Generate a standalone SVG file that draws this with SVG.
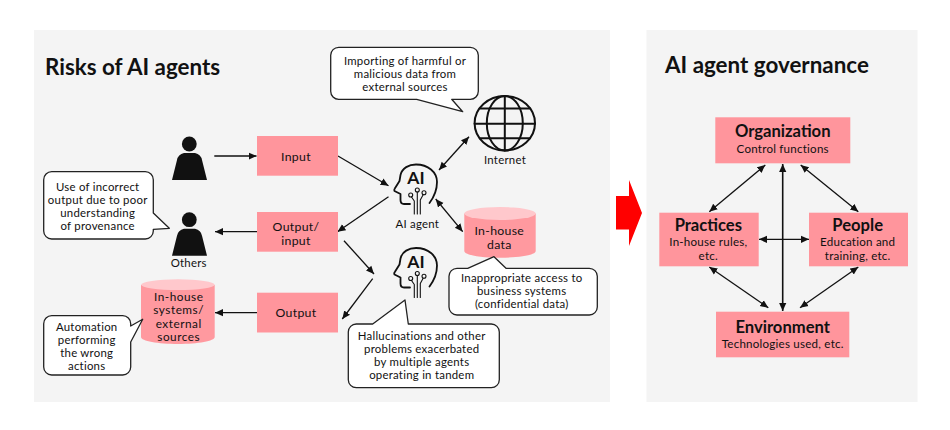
<svg xmlns="http://www.w3.org/2000/svg" width="950" height="430" viewBox="0 0 950 430">
<style>
text{font-family:"Lato","Noto Sans","Liberation Sans",sans-serif;fill:#111;text-anchor:middle}
.title{font-size:22.4px;font-weight:700;text-anchor:start}
.c{font-size:11.4px;letter-spacing:.25px}
.l{font-size:12.3px;letter-spacing:.3px}
.l2{font-size:11.8px;letter-spacing:.5px}
.b{font-size:16.6px;font-weight:700}
.s{font-size:11.6px;letter-spacing:.22px}
.panel{fill:#f4f4f4}
.box{fill:#ff959c}
.cyl{fill:#ff999f}
.cap{fill:#ffc8cc}
.bub{fill:#fff;stroke:#222;stroke-width:1.3;stroke-linejoin:round}
.con line{stroke:#111;stroke-width:1.3;fill:none}
.one{marker-end:url(#a)}
.two{marker-start:url(#a);marker-end:url(#a)}
.ico{fill:none;stroke:#111;stroke-width:1.8;stroke-linecap:round;stroke-linejoin:round}
.thin{stroke-width:1.1}
.ai{font-size:17.5px;font-weight:700}
</style>
<defs>
<marker id="a" markerUnits="userSpaceOnUse" markerWidth="10" markerHeight="10" refX="8" refY="4" orient="auto-start-reverse"><path d="M0,0.4L8,4L0,7.6Z" fill="#111"/></marker>
<g id="person"><circle cx="189.3" cy="144" r="7.4" fill="#111"/><path d="M172,180L177,160Q178,154.500 184,153H195Q201,154.500 202,160L207,180Z" fill="#111"/></g>
<g id="head">
<path class="ico" d="M25,54H19Q15.500,54 15.500,50V44L9.500,41Q8.800,40 9.800,38.500L14.500,31Q15,28 15.500,25C17,18 24,14.500 31,14.500C43,14.500 52,22 52,32C52,41 49,47 44.500,53"/>
<path class="ico thin" d="M29.300,64V51L26.500,47M32.300,64V42M35.300,64V50L38,45"/>
<circle class="ico thin" cx="25.700" cy="45" r="2"/><circle class="ico thin" cx="32.300" cy="40" r="2"/><circle class="ico thin" cx="39" cy="42.700" r="2"/>
<text class="ai" x="31" y="34.300">AI</text>
</g>
</defs>
<rect width="950" height="430" fill="#fff"/>
<rect class="panel" x="34" y="30" width="576" height="372"/>
<rect class="panel" x="646.500" y="30" width="271" height="372"/>
<text class="title" x="45" y="75">Risks of AI agents</text>
<text class="title" x="665" y="72.500">AI agent governance</text>
<path id="red-arrow" d="M616,196H629V180L642,213L629,246V229.500H616Z" fill="#f00"/>

<g id="connectors" class="con">
<line class="one" x1="214.300" y1="156" x2="256.500" y2="156"/>
<line class="one" x1="338" y1="156" x2="388.500" y2="185.700"/>
<line class="one" x1="388.500" y1="196.700" x2="337.500" y2="231.700"/>
<line class="one" x1="257" y1="231.700" x2="215" y2="231.700"/>
<line class="one" x1="257" y1="312.700" x2="215" y2="312.700"/>
<line class="one" x1="344" y1="240.700" x2="374" y2="274"/>
<line class="one" x1="372.700" y1="278.700" x2="342.300" y2="319"/>
<line class="two" x1="439" y1="170" x2="469" y2="136.700"/>
<line class="two" x1="435.700" y1="199" x2="462.700" y2="231.700"/>
<line class="two" x1="765.300" y1="165" x2="709.300" y2="211.700"/>
<line class="two" x1="800.700" y1="165" x2="858.300" y2="211.700"/>
<line class="two" x1="782.700" y1="164" x2="782.700" y2="311" style="stroke-width:1.600"/>
<line class="two" x1="759" y1="239.300" x2="809" y2="239.300"/>
<line class="two" x1="709.300" y1="267" x2="768.300" y2="307.700"/>
<line class="two" x1="858.300" y1="267" x2="800" y2="307.700"/>
</g>

<g id="user"><use href="#person"/></g>
<g id="others"><use href="#person" y="75.700"/><text class="c" x="188.700" y="266.700">Others</text></g>

<g id="input"><rect class="box" x="257" y="136" width="81" height="39.700"/><text class="l" x="296" y="160.500">Input</text></g>
<g id="output-input"><rect class="box" x="257" y="212" width="81" height="39.700"/><text class="l" x="296" y="230.700">Output/</text><text class="l" x="296" y="244.700">input</text></g>
<g id="output"><rect class="box" x="257" y="292.700" width="81" height="39.800"/><text class="l" x="296" y="317">Output</text></g>

<g id="ai-agent"><use href="#head" x="385" y="150"/><text class="c" x="417.300" y="228">AI agent</text></g>
<g id="ai-agent-2"><use href="#head" x="385" y="233.500"/></g>

<g id="internet">
<ellipse class="ico" cx="504.800" cy="123.300" rx="30.200" ry="27.200" style="stroke-width:2"/>
<ellipse class="ico" cx="504.800" cy="123.300" rx="18" ry="27.200" style="stroke-width:2"/>
<path class="ico" style="stroke-width:2" d="M504.800,96V150.500M480,108.500H530M474.600,123.700H535M480,138.300H530"/>
<text class="c" x="505" y="163.500">Internet</text>
</g>

<g id="in-house-data">
<path class="cyl" d="M464.300,213.500V251C464.300,255 480,257.700 500,257.700S535.700,255 535.700,251V213.500Z"/>
<ellipse class="cap" cx="500" cy="213.500" rx="35.700" ry="6.500"/>
<text class="l" x="499.300" y="234.700">In-house</text><text class="l" x="499.300" y="248.700">data</text>
</g>
<g id="in-house-systems">
<path class="cyl" d="M141,285V337C141,341 158,344 178,344S214.700,341 214.700,337V285Z"/>
<ellipse class="cap" cx="177.900" cy="284.700" rx="36.800" ry="5.400"/>
<text class="l2" x="178.700" y="300.500">In-house</text><text class="l2" x="178.700" y="314">systems/</text><text class="l2" x="178.700" y="327.500">external</text><text class="l2" x="178.700" y="341">sources</text>
</g>

<g id="callout-harmful"><path class="bub" d="M338.700,47.300H470.300a8,8 0 0 1 8,8V91.300a8,8 0 0 1 -8,8H451.700L462.700,111.700L416.700,99.300H338.700a8,8 0 0 1 -8,-8V55.300a8,8 0 0 1 8,-8Z"/><text class="c" x="405" y="65">Importing of harmful or</text><text class="c" x="405" y="78">malicious data from</text><text class="c" x="405" y="91">external sources</text></g>
<g id="callout-provenance"><path class="bub" d="M51.700,171.700H145.300a8,8 0 0 1 8,8V213L169.300,228.300L153.300,229.300V231a8,8 0 0 1 -8,8H51.700a8,8 0 0 1 -8,-8V179.700a8,8 0 0 1 8,-8Z"/><text class="c" x="97.700" y="190.700">Use of incorrect</text><text class="c" x="97.700" y="203.700">output due to poor</text><text class="c" x="97.700" y="216.700">understanding</text><text class="c" x="97.700" y="229.700">of provenance</text></g>
<g id="callout-automation"><path class="bub" d="M51.700,315.700H122.700a8,8 0 0 1 8,8V326L142.700,319.300L130.700,342V367a8,8 0 0 1 -8,8H51.700a8,8 0 0 1 -8,-8V323.700a8,8 0 0 1 8,-8Z"/><text class="c" x="86.700" y="330.700">Automation</text><text class="c" x="86.700" y="343.700">performing</text><text class="c" x="86.700" y="356.700">the wrong</text><text class="c" x="86.700" y="369.700">actions</text></g>
<g id="callout-access"><path class="bub" d="M457,268.300H467.700L494,256.700L506,268.300H589.300a8,8 0 0 1 8,8V307a8,8 0 0 1 -8,8H457a8,8 0 0 1 -8,-8V276.300a8,8 0 0 1 8,-8Z"/><text class="c" x="521.700" y="282.300">Inappropriate access to</text><text class="c" x="521.700" y="295.300">business systems</text><text class="c" x="521.700" y="308.300">(confidential data)</text></g>
<g id="callout-hallucinations"><path class="bub" d="M356.300,324H372.700L405,300L408.300,324H491.300a8,8 0 0 1 8,8V379.700a8,8 0 0 1 -8,8H356.300a8,8 0 0 1 -8,-8V332a8,8 0 0 1 8,-8Z"/><text class="c" x="421.700" y="340">Hallucinations and other</text><text class="c" x="421.700" y="353">problems exacerbated</text><text class="c" x="421.700" y="366">by multiple agents</text><text class="c" x="421.700" y="379">operating in tandem</text></g>

<g id="organization"><rect class="box" x="715.300" y="117.300" width="135" height="46"/><text class="b" x="782.700" y="137.300">Organization</text><text class="s" x="782.700" y="152.700">Control functions</text></g>
<g id="practices"><rect class="box" x="659.300" y="212.700" width="99.400" height="53.600"/><text class="b" x="708.300" y="231">Practices</text><text class="s" x="708.300" y="246.400">In-house rules,</text><text class="s" x="708.300" y="259.700">etc.</text></g>
<g id="people"><rect class="box" x="809" y="212.700" width="99" height="53.600"/><text class="b" x="857.700" y="231">People</text><text class="s" x="857.700" y="246.400">Education and</text><text class="s" x="857.700" y="259.700">training, etc.</text></g>
<g id="environment"><rect class="box" x="716" y="311.700" width="133.300" height="45.600"/><text class="b" x="782.700" y="332.500">Environment</text><text class="s" x="782.700" y="348.300">Technologies used, etc.</text></g>
</svg>
